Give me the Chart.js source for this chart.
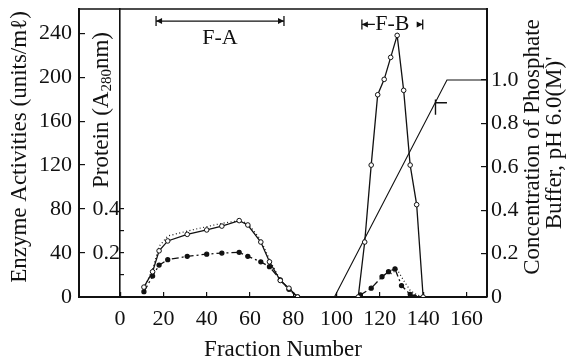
<!DOCTYPE html>
<html>
<head>
<meta charset="utf-8">
<script src="https://cdn.jsdelivr.net/npm/chart.js@4/dist/chart.umd.min.js"></script>
<style>
  html, body { margin: 0; padding: 0; background: #fff; }
</style>
</head>
<body>
<canvas id="chart" width="566" height="359"></canvas>
<script>
// fraction numbers of the sampled tubes
const fractionsA = [11, 15, 18, 22, 31, 40, 47, 55, 59, 65, 69, 74, 78, 82];
const fractionsB = [110, 113, 116, 119, 122, 125, 128, 131, 134, 137, 140];

// enzyme activity, open circles (units/ml)
const activityA = [9, 23, 42, 51, 57, 61, 64.5, 69.5, 65.5, 50, 32, 15, 8, 0];
const activityB = [0, 50, 120, 184, 198, 218, 238, 188, 120, 84, 0];

// second activity, dotted line (units/ml)
const dottedA = [8, 25, 46, 55.5, 60, 64, 67, 69.5, 67, 52, 34, 15.5, 6.5, 0];
const dottedFractionsB = [125, 128, 131, 134, 137, 140];
const dottedB = [21, 25, 15, 6, 2, 0];

// protein, A280nm
const proteinA = [0.024, 0.095, 0.145, 0.17, 0.185, 0.195, 0.2, 0.203, 0.185, 0.16, 0.138, 0.078, 0.035, 0];
const proteinFractionsB = [111, 116, 121, 124, 127, 130, 134, 136];
const proteinB = [0.009, 0.04, 0.092, 0.115, 0.128, 0.052, 0.012, 0];

// phosphate buffer gradient (M)
const gradientFractions = [99, 151, 170];
const gradientConc = [0, 1.0, 1.0];

// little start mark on the gradient
const markFractions = [145.7, 145.7, 145.7, 145.7, 151];
const markConc = [0.84, 0.91, null, 0.895, 0.895];

// pooled fractions
const poolA = [16.6, 75.7];
const poolB = [111.7, 139.8];

// ticks
const fractionTicks = [0, 20, 40, 60, 80, 100, 120, 140, 160];
const activityTicks = [0, 40, 80, 120, 160, 200, 240];
const proteinTicks = [0.1, 0.2, 0.3, 0.4];
const proteinLabelTicks = [0.2, 0.4];
const concTicks = [0, 0.2, 0.4, 0.6, 0.8, 1.0];

const serif = '"Liberation Serif", "Times New Roman", serif';
const ink = '#111';

const pts = (xs, ys) => xs.map((x, i) => ({ x: x, y: ys[i] }));
const gap = (x) => ({ x: x, y: null });

const flatTicks = (list) => (scale) => {
  scale.ticks = list.map((v) => ({ value: v }));
};
const noPad = (w, h) => (scale) => {
  if (w) scale.width = w;
  if (h) scale.height = h;
  scale.paddingTop = 0;
  scale.paddingBottom = 0;
  scale.paddingLeft = 0;
  scale.paddingRight = 0;
};

// titles, brackets and the frame top
const extras = {
  id: 'extras',
  afterDraw(chart) {
    const ctx = chart.ctx;
    const area = chart.chartArea;
    const x = chart.scales.x;
    const y = chart.scales.y;
    ctx.save();
    ctx.strokeStyle = ink;
    ctx.fillStyle = ink;

    // frame top
    ctx.lineWidth = 1.5;
    ctx.beginPath();
    ctx.moveTo(area.left, area.top);
    ctx.lineTo(area.right, area.top);
    ctx.stroke();

    // bracket helper
    const end = (px, py, dir) => {
      ctx.beginPath();
      ctx.moveTo(px, py - 5);
      ctx.lineTo(px, py + 5);
      ctx.stroke();
      ctx.beginPath();
      ctx.moveTo(px, py);
      ctx.lineTo(px - dir * 6, py - 3);
      ctx.lineTo(px - dir * 6, py + 3);
      ctx.closePath();
      ctx.fill();
    };
    ctx.lineWidth = 1.3;

    // F-A
    const aY = y.getPixelForValue(251);
    const a0 = x.getPixelForValue(poolA[0]);
    const a1 = x.getPixelForValue(poolA[1]);
    ctx.beginPath();
    ctx.moveTo(a0, aY);
    ctx.lineTo(a1, aY);
    ctx.stroke();
    end(a0, aY, -1);
    end(a1, aY, 1);

    // F-B
    const bY = y.getPixelForValue(248);
    const b0 = x.getPixelForValue(poolB[0]);
    const b1 = x.getPixelForValue(poolB[1]);
    ctx.beginPath();
    ctx.moveTo(b0, bY);
    ctx.lineTo(b0 + 13, bY);
    ctx.moveTo(b1 - 5, bY);
    ctx.lineTo(b1, bY);
    ctx.stroke();
    end(b0, bY, -1);
    end(b1, bY, 1);

    ctx.font = '22px ' + serif;
    ctx.textAlign = 'center';
    ctx.textBaseline = 'middle';
    ctx.fillText('F-A', x.getPixelForValue((poolA[0] + poolA[1]) / 2), y.getPixelForValue(235));
    ctx.fillText('F-B', (b0 + b1) / 2, bY);

    // rotated titles
    const vtext = (cx, cy, text) => {
      ctx.save();
      ctx.translate(cx, cy);
      ctx.rotate(-Math.PI / 2);
      ctx.fillText(text, 0, 0);
      ctx.restore();
    };
    ctx.font = '23px ' + serif;
    vtext(20, 147, 'Enzyme Activities (units/m\u2113)');
    vtext(533, 147, 'Concentration of Phosphate');
    vtext(555, 143, "Buffer, pH 6.0(M)'");

    // Protein (A280nm) with subscript
    ctx.save();
    ctx.translate(102, 110);
    ctx.rotate(-Math.PI / 2);
    ctx.textAlign = 'left';
    const parts = [['Protein (A', 23, 0], ['280', 15, 5], ['nm)', 23, 0]];
    let total = 0;
    parts.forEach((p) => {
      ctx.font = p[1] + 'px ' + serif;
      total += ctx.measureText(p[0]).width;
    });
    let px = -total / 2;
    parts.forEach((p) => {
      ctx.font = p[1] + 'px ' + serif;
      ctx.fillText(p[0], px, p[2]);
      px += ctx.measureText(p[0]).width;
    });
    ctx.restore();

    ctx.restore();
  }
};

const tickFont = { family: serif, size: 22 };

new Chart(document.getElementById('chart'), {
  type: 'line',
  data: {
    datasets: [
      {
        label: 'Activity',
        data: pts(fractionsA, activityA).concat([gap(96)], pts(fractionsB, activityB)),
        yAxisID: 'y',
        borderColor: ink,
        borderWidth: 1.3,
        pointRadius: 2.3,
        pointBorderWidth: 1,
        pointBackgroundColor: '#fff',
        pointBorderColor: ink,
        tension: 0
      },
      {
        label: 'Activity 2',
        data: pts(fractionsA, dottedA).concat([gap(100)], pts(dottedFractionsB, dottedB)),
        yAxisID: 'y',
        borderColor: ink,
        borderWidth: 1.2,
        borderDash: [1, 2.5],
        pointRadius: 0,
        tension: 0
      },
      {
        label: 'Protein',
        data: pts(fractionsA, proteinA).concat([gap(100)], pts(proteinFractionsB, proteinB)),
        yAxisID: 'yProtein',
        borderColor: ink,
        borderWidth: 1.3,
        borderDash: [7, 3, 2, 3],
        pointRadius: 2,
        pointBackgroundColor: ink,
        pointBorderColor: ink,
        tension: 0
      },
      {
        label: 'Phosphate',
        data: pts(gradientFractions, gradientConc),
        yAxisID: 'yConc',
        borderColor: ink,
        borderWidth: 1.1,
        pointRadius: 0,
        tension: 0
      },
      {
        label: 'Mark',
        data: pts(markFractions, markConc),
        yAxisID: 'yConc',
        borderColor: ink,
        borderWidth: 1.4,
        pointRadius: 0,
        tension: 0
      }
    ]
  },
  options: {
    responsive: false,
    animation: false,
    devicePixelRatio: 1,
    layout: { padding: { top: 9, left: 0, right: 0, bottom: 0 } },
    plugins: { legend: { display: false }, tooltip: { enabled: false } },
    scales: {
      x: {
        type: 'linear',
        position: 'bottom',
        min: -19,
        max: 169.5,
        afterBuildTicks: flatTicks(fractionTicks),
        afterFit: noPad(0, 62),
        grid: { drawOnChartArea: false, tickLength: -5, color: ink, lineWidth: 1.2 },
        border: { color: ink, width: 2 },
        ticks: { color: ink, font: tickFont, padding: 14, maxRotation: 0, autoSkip: false },
        title: {
          display: true,
          text: 'Fraction Number',
          color: ink,
          font: { family: serif, size: 23, lineHeight: 1 },
          padding: { top: 0, bottom: -2 }
        }
      },
      y: {
        position: 'left',
        min: 0,
        max: 262,
        afterBuildTicks: flatTicks(activityTicks),
        afterFit: noPad(79, 0),
        grid: { drawOnChartArea: false, tickLength: -6, color: ink, lineWidth: 1.2 },
        border: { color: ink, width: 2 },
        ticks: { color: ink, font: tickFont, padding: 13 }
      },
      yProtein: {
        position: { x: 0 },
        min: 0,
        max: 1.31,
        afterBuildTicks: flatTicks(proteinTicks),
        afterFit: noPad(0, 0),
        grid: { drawOnChartArea: false, tickLength: -5, color: ink, lineWidth: 1.2 },
        border: { color: ink, width: 1.6 },
        ticks: {
          color: ink,
          font: tickFont,
          callback: (v) => (proteinLabelTicks.includes(v) ? v.toFixed(1) : '')
        }
      },
      yConc: {
        position: 'right',
        min: 0,
        max: 1.327,
        afterBuildTicks: flatTicks(concTicks),
        afterFit: noPad(79, 0),
        grid: { drawOnChartArea: false, tickLength: -6, color: ink, lineWidth: 1.2 },
        border: { color: ink, width: 2 },
        ticks: {
          color: ink,
          font: tickFont,
          padding: 10,
          callback: (v) => (v === 0 ? '0' : v.toFixed(1))
        }
      }
    }
  },
  plugins: [extras]
});
</script>
</body>
</html>
